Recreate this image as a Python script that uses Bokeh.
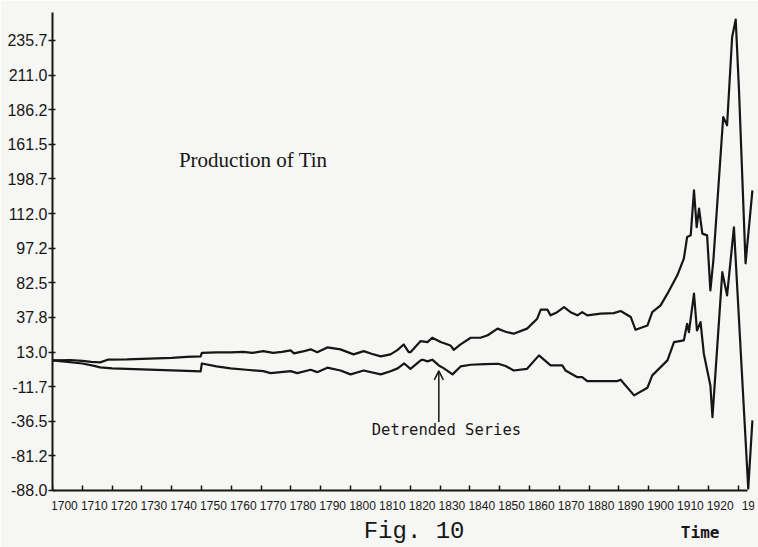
from bokeh.plotting import figure
from bokeh.models import Range1d, FixedTicker, Label, Arrow, OpenHead, LinearAxis
from bokeh.embed import file_html
from bokeh.resources import INLINE

# Upper series (production, trend included)
up_years = [1700, 1706, 1710, 1713, 1716, 1718.5, 1725, 1730, 1735, 1740, 1745, 1749.7,
            1750.1, 1755, 1759.7, 1764, 1767, 1770.7, 1774, 1777, 1779.9, 1781, 1784,
            1786.6, 1788.8, 1792.2, 1796.6, 1801, 1804.4, 1807, 1810.1, 1813.4, 1815.8,
            1817.8, 1819.5, 1820.1, 1823.5, 1825.8, 1827.4, 1830.2, 1833.5, 1834.6,
            1836.9, 1840.3, 1843.6, 1846, 1849.3, 1852, 1854.7, 1859.2, 1862.6, 1863.8,
            1866.0, 1867.1, 1869.3, 1871.6, 1873.8, 1876.1, 1877.7, 1879.4, 1883.9,
            1888.3, 1890.6, 1894.0, 1895.6, 1899.6, 1901.2, 1904.0, 1906.3, 1909.6,
            1911.8, 1912.9, 1914.1, 1915.2, 1916.1, 1916.9, 1918.0, 1919.6, 1920.7,
            1921.7, 1925.0, 1926.3, 1928.0, 1929.2, 1930.3, 1932.5, 1934.8]
up_values = [7.0, 7.3, 6.6, 5.9, 5.6, 7.5, 7.7, 8.1, 8.4, 8.8, 9.5, 9.9,
             12.4, 12.7, 12.7, 13.1, 12.4, 13.6, 12.4, 13.1, 14.2, 12.0, 13.4,
             14.9, 12.9, 16.3, 14.9, 11.3, 13.6, 11.8, 9.9, 11.3, 14.5,
             18.4, 12.9, 12.9, 20.8, 20.1, 23.2, 20.1, 17.7, 14.6,
             18.4, 23.2, 23.2, 25.0, 29.7, 27.5, 26.1, 29.7, 36.8, 43.3,
             43.3, 39.2, 41.5, 45.1, 41.5, 39.2, 41.5, 39.2, 40.4,
             40.8, 42.3, 38.0, 28.9, 32.0, 41.5, 46.3, 54.7, 67.8,
             79.7, 95.2, 96.4, 128.6, 102.3, 115.5, 97.6, 96.4, 57.1,
             78.5, 181.0, 175.1, 238.2, 250.7, 200.1, 76.4, 128.6]

# Lower series (detrended)
dt_years = [1700, 1705, 1710, 1714, 1716, 1720, 1725, 1730, 1735, 1740, 1745, 1749.7,
            1750.1, 1755, 1759.7, 1765, 1770.7, 1773.2, 1779.9, 1782.1, 1786.6, 1788.8,
            1792.2, 1796.6, 1800, 1804.4, 1810.1, 1813.4, 1815.8, 1818, 1820.1, 1823.5,
            1824.2, 1825.8, 1827.4, 1829.6, 1831.2, 1834.2, 1836.9, 1840.3, 1845, 1849.5,
            1852, 1854.7, 1859.2, 1863.2, 1867.1, 1871.0, 1872.1, 1876.1, 1877.7, 1879.4,
            1883.9, 1889.5, 1890.6, 1895.1, 1899.6, 1901.2, 1906.3, 1908.5, 1911.8,
            1912.9, 1913.5, 1915.2, 1916.2, 1917.4, 1918.5, 1920.7, 1921.4, 1924.7,
            1926.3, 1928.6, 1933.4, 1934.8]
dt_values = [7.0, 5.9, 4.8, 3.1, 2.0, 1.3, 0.9, 0.6, 0.2, -0.2, -0.5, -0.9,
             4.8, 2.7, 1.3, 0.3, -0.7, -2.1, -0.7, -2.1, 0.3, -1.4,
             1.8, -0.2, -3.0, -0.2, -3.0, -0.7, 1.3, 4.8, 1.0, 7.0,
             7.5, 6.3, 7.5, 3.4, 1.5, -3.0, 2.7, 3.9, 4.3, 4.6,
             3.0, -0.2, 1.0, 10.6, 3.4, 3.4, -0.2, -5.0, -5.0, -7.8,
             -7.8, -7.8, -6.8, -18.0, -12.5, -3.7, 7.0, 20.1, 21.3,
             33.2, 27.2, 54.7, 28.4, 34.4, 11.8, -10.9, -33.6, 70.1,
             53.5, 102.1, -84.6, -35.9]

# Axis ticks (evenly spaced) and the labels as printed
y_ticks = [-86.0, -61.2, -36.5, -11.7, 13.0, 37.8, 62.5, 87.2, 112.0, 136.7, 161.5, 186.2, 211.0, 235.7]
y_labels = ["-88.0", "-81.2", "-36.5", "-11.7", "13.0", "37.8", "82.5", "97.2", "112.0",
            "198.7", "161.5", "186.2", "211.0", "235.7"]
x_ticks = [1700, 1710, 1720, 1730, 1740, 1750, 1760, 1770, 1780, 1790, 1800, 1810, 1820,
           1830, 1840, 1850, 1860, 1870, 1880, 1890, 1900, 1910, 1920, 1930]
x_labels = ["1700", "1710", "1720", "1730", "1740", "1750", "1760", "1770", "1780", "1790",
            "1800", "1810", "1820", "1830", "1840", "1850", "1860", "1870", "1880", "1890",
            "1900", "1910", "1920", "19:"]
x_label_shift = 4.0  # printed labels sit just right of their ticks

INK = "#161616"
PAPER = "#f6f6f4"

p = figure(width=758, height=547, output_backend="svg", toolbar_location=None,
           x_range=Range1d(1700, 1935.5), y_range=Range1d(-126.75, 255.7),
           min_border_left=52, min_border_right=4, min_border_top=12, min_border_bottom=0)
p.background_fill_color = PAPER
p.border_fill_color = PAPER
p.outline_line_color = None
p.grid.visible = False

p.line(up_years, up_values, line_color=INK, line_width=2.2, line_join="round")
p.line(dt_years, dt_values, line_color=INK, line_width=2.2, line_join="round")

ax = p.yaxis[0]
ax.ticker = FixedTicker(ticks=y_ticks)
ax.major_label_overrides = {t: l for t, l in zip(y_ticks, y_labels)}
ax.bounds = (-86.0, 255.7)
ax.minor_tick_line_color = None
ax.major_tick_in = 3
ax.major_tick_out = 4
ax.major_label_standoff = 1
ax.axis_line_width = 2
ax.axis_line_color = INK
ax.major_tick_line_color = INK
ax.major_tick_line_width = 1.5
ax.major_label_text_font = "'Liberation Sans', sans-serif"
ax.major_label_text_font_size = "16px"
ax.major_label_text_color = INK

# x axis: line and ticks (labels are drawn by the axis below, offset as printed)
bx = p.xaxis[0]
bx.fixed_location = -86.0
bx.bounds = (1700, 1933.3)
bx.ticker = FixedTicker(ticks=x_ticks)
bx.major_label_overrides = {t: "" for t in x_ticks}
bx.minor_tick_line_color = None
bx.major_tick_in = 5
bx.major_tick_out = 0
bx.axis_line_width = 2
bx.axis_line_color = INK
bx.major_tick_line_color = INK
bx.major_tick_line_width = 1.5

label_pos = [t + x_label_shift for t in x_ticks]
lx = LinearAxis(fixed_location=-86.0, ticker=FixedTicker(ticks=label_pos),
                major_label_overrides={pos: l for pos, l in zip(label_pos, x_labels)},
                axis_line_color=None, major_tick_line_color=None, minor_tick_line_color=None,
                major_label_standoff=3,
                major_label_text_font="'Liberation Sans', sans-serif",
                major_label_text_font_size="12px", major_label_text_color=INK)
p.add_layout(lx, "below")

p.add_layout(Label(x=1742.4, y=150.0, text="Production of Tin", text_baseline="middle",
                   text_font="'Liberation Serif', serif", text_font_size="21px", text_color=INK))
p.add_layout(Label(x=1807.1, y=-42.4, text="Detrended Series", text_baseline="middle",
                   text_font="'DejaVu Sans Mono', monospace", text_font_size="15.5px", text_color=INK))
p.add_layout(Arrow(x_start=1829.6, y_start=-37.1, x_end=1829.6, y_end=-0.5,
                   line_color=INK, line_width=1.5,
                   end=OpenHead(size=9, line_color=INK, line_width=1.5)))
p.add_layout(Label(x=1804.4, y=-115.5, text="Fig. 10", text_baseline="alphabetic",
                   text_font="'Liberation Mono', monospace", text_font_size="24px", text_color=INK))
p.add_layout(Label(x=1910.8, y=-116.0, text="Time", text_baseline="alphabetic",
                   text_font="'DejaVu Sans Mono', monospace", text_font_size="16px",
                   text_font_style="bold", text_color=INK))

open("out.html", "w").write(file_html(p, INLINE))
